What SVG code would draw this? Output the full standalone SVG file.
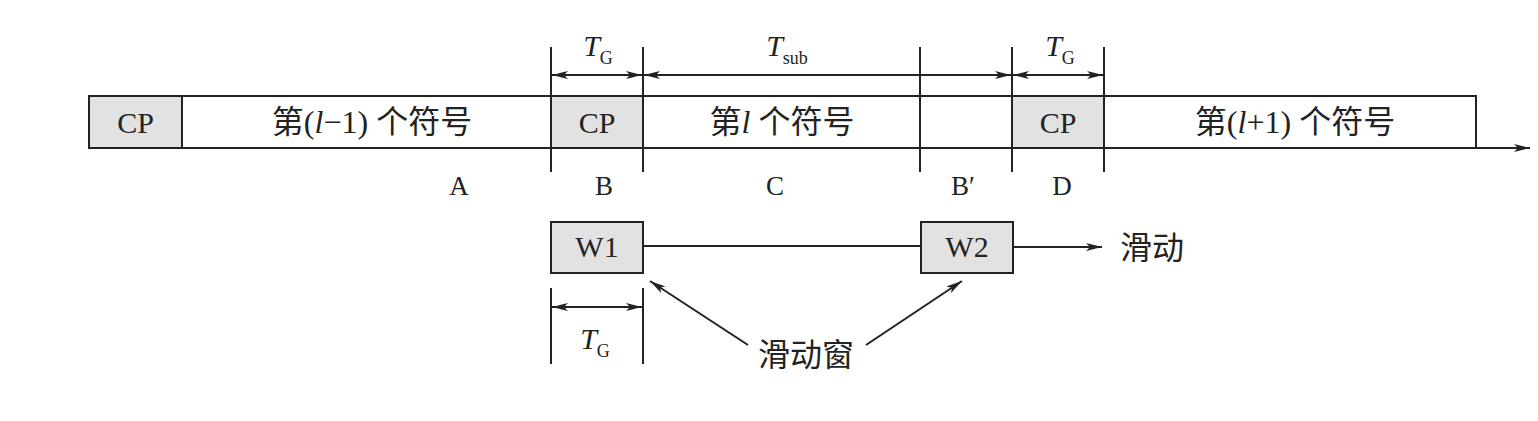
<svg xmlns="http://www.w3.org/2000/svg" width="1538" height="421" viewBox="0 0 1538 421">
<style>
.ln{stroke:#222;stroke-width:2;fill:none}
.cp{fill:#e2e2e2;stroke:#222;stroke-width:2}
.wh{fill:#fff;stroke:#222;stroke-width:2}
.t{font-family:"Liberation Serif","Noto Sans CJK SC",serif;font-size:30px;fill:#222;text-anchor:middle}
.l{font-family:"Liberation Serif",serif;font-size:27px;fill:#222;text-anchor:middle}
.c{font-family:"Liberation Serif","Noto Sans CJK SC",serif;font-size:32px;fill:#222;text-anchor:middle}
.sub{font-size:18px;font-style:normal}
.i{font-style:italic}
</style>
<defs>
<marker id="ah" viewBox="0 0 16 8" refX="16" refY="4" markerWidth="16" markerHeight="8" markerUnits="userSpaceOnUse" orient="auto-start-reverse">
<path d="M0,0 L16,4 L0,8 L4,4 Z" fill="#222"/>
</marker>
</defs>
<rect width="1538" height="421" fill="#fff"/>
<g id="bar">
<rect class="wh" x="89" y="96" width="1387" height="52"/>
</g>
<g id="cp1"><rect class="cp" x="89" y="96" width="93" height="52"/><text class="t" x="135.5" y="133">CP</text></g>
<g id="sym-prev"><text class="c" x="372" y="133">第(<tspan class="i">l</tspan>−1) 个符号</text></g>
<g id="cp2"><rect class="cp" x="551" y="96" width="92" height="52"/><text class="t" x="597" y="133">CP</text></g>
<g id="sym-cur"><text class="c" x="782" y="133">第<tspan class="i">l</tspan> 个符号</text></g>
<g id="cp3"><rect class="cp" x="1012" y="96" width="92" height="52"/><text class="t" x="1058" y="133">CP</text></g>
<g id="sym-next"><text class="c" x="1295" y="133">第(<tspan class="i">l</tspan>+1) 个符号</text></g>
<g id="labels">
<text class="l" x="459" y="195">A</text>
<text class="l" x="604" y="195">B</text>
<text class="l" x="775" y="195">C</text>
<text class="l" x="963" y="195">B′</text>
<text class="l" x="1062" y="195">D</text>
<text class="t" x="598" y="56"><tspan class="i">T</tspan><tspan class="sub" dy="8">G</tspan></text>
<text class="t" x="787" y="56"><tspan class="i">T</tspan><tspan class="sub" dy="8">sub</tspan></text>
<text class="t" x="1060" y="56"><tspan class="i">T</tspan><tspan class="sub" dy="8">G</tspan></text>
<text class="t" x="595" y="349"><tspan class="i">T</tspan><tspan class="sub" dy="8">G</tspan></text>
</g>
<g id="w1"><rect class="cp" x="551" y="222" width="92" height="51"/><text class="t" x="597" y="257">W1</text></g>
<g id="w2"><rect class="cp" x="921" y="222" width="92" height="51"/><text class="t" x="967" y="257">W2</text></g>
<g id="slide-label"><text class="c" x="1152" y="259">滑动</text></g>
<g id="window-label"><text class="c" x="806" y="366">滑动窗</text></g>
<g id="connectors">
<line class="ln" x1="89" y1="148" x2="1530" y2="148" marker-end="url(#ah)"/>
<line class="ln" x1="551" y1="47" x2="551" y2="172"/>
<line class="ln" x1="643" y1="47" x2="643" y2="172"/>
<line class="ln" x1="920" y1="47" x2="920" y2="172"/>
<line class="ln" x1="1012" y1="47" x2="1012" y2="172"/>
<line class="ln" x1="1104" y1="47" x2="1104" y2="172"/>
<line class="ln" x1="552" y1="75" x2="642" y2="75" marker-start="url(#ah)" marker-end="url(#ah)"/>
<line class="ln" x1="644" y1="75" x2="1011" y2="75" marker-start="url(#ah)" marker-end="url(#ah)"/>
<line class="ln" x1="1013" y1="75" x2="1103" y2="75" marker-start="url(#ah)" marker-end="url(#ah)"/>
<line class="ln" x1="643" y1="246" x2="921" y2="246"/>
<line class="ln" x1="1013" y1="247" x2="1102" y2="247" marker-end="url(#ah)"/>
<line class="ln" x1="551" y1="288" x2="551" y2="364"/>
<line class="ln" x1="643" y1="288" x2="643" y2="364"/>
<line class="ln" x1="552" y1="307" x2="642" y2="307" marker-start="url(#ah)" marker-end="url(#ah)"/>
<line class="ln" x1="748" y1="345" x2="650" y2="281" marker-end="url(#ah)"/>
<line class="ln" x1="866" y1="345" x2="962" y2="281" marker-end="url(#ah)"/>
</g>
</svg>
